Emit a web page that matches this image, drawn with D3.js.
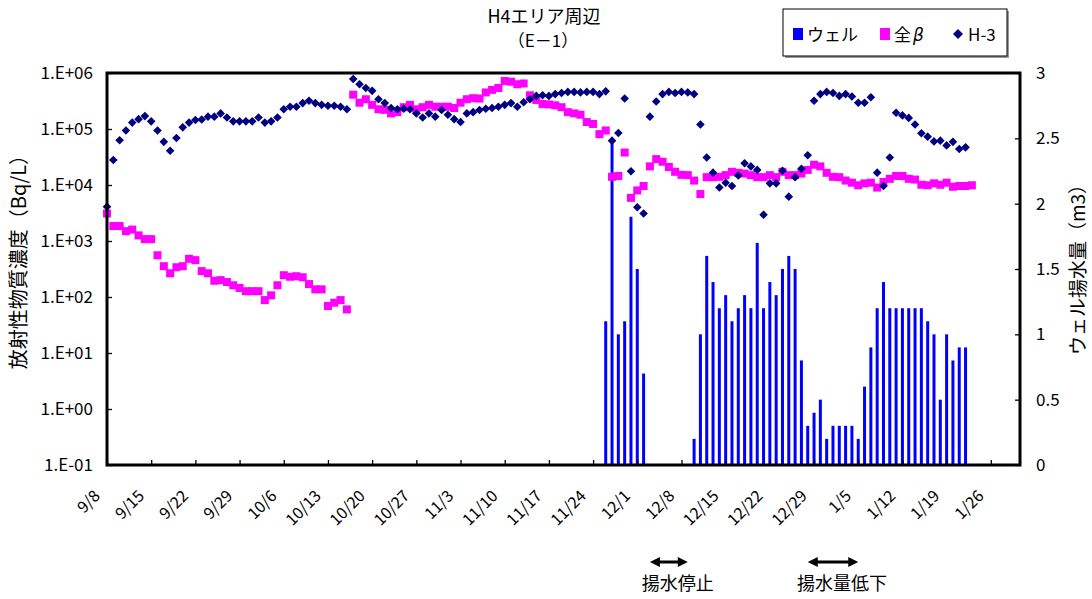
<!DOCTYPE html>
<html><head><meta charset="utf-8">
<script src="https://cdn.jsdelivr.net/npm/d3@7"></script>
<style>
body{margin:0;background:#fff}
svg{display:block}
text{font-family:"Noto Sans CJK JP","DejaVu Sans",sans-serif;fill:#000}
</style>
</head><body>
<svg id="chart" width="1092" height="599"></svg>
<script>
// ---- data ----
const sampleDates = [
 "9/8","9/9","9/10","9/11","9/12","9/13","9/14","9/15","9/16","9/17","9/18","9/19","9/20","9/21","9/22","9/23","9/24","9/25","9/26","9/27","9/28","9/29","9/30",
 "10/1","10/2","10/3","10/4","10/5","10/6","10/7","10/8","10/9","10/10","10/11","10/12","10/13","10/14","10/15","10/16","10/17","10/18","10/19","10/20","10/21","10/22","10/23","10/24","10/25","10/26","10/27","10/28","10/29","10/30","10/31",
 "11/1","11/2","11/3","11/4","11/5","11/6","11/7","11/8","11/9","11/10","11/11","11/12","11/13","11/14","11/15","11/16","11/17","11/18","11/19","11/20","11/21","11/22","11/23","11/24","11/25","11/26","11/27","11/28","11/29","11/30",
 "12/1","12/2","12/3","12/4","12/5","12/6","12/7","12/8","12/9","12/10","12/11","12/12","12/13","12/14","12/15","12/16","12/17","12/18","12/19","12/20","12/21","12/22","12/23","12/24","12/25","12/26","12/27","12/28","12/29","12/30","12/31",
 "1/1","1/2","1/3","1/4","1/5","1/6","1/7","1/8","1/9","1/10","1/11","1/12","1/13","1/14","1/15","1/16","1/17","1/18","1/19","1/20","1/21","1/22","1/23"
];
// H-3 (Bq/L), 9/8 .. 1/22
const h3Values = [
 4100,28000,63000,94000,130000,150000,170000,137000,94000,59000,41000,69000,107000,130000,145000,148000,166000,166000,190000,160000,137000,137000,137000,
 137000,160000,130000,137000,160000,225000,250000,250000,290000,320000,290000,270000,260000,260000,250000,225000,
 780000,630000,540000,480000,340000,290000,237000,225000,230000,225000,190000,160000,190000,166000,218000,
 180000,150000,133000,190000,200000,218000,230000,237000,250000,270000,
 290000,250000,300000,340000,390000,400000,390000,420000,440000,460000,
 460000,450000,460000,460000,420000,470000,62000,85000,350000,17600,
 4000,3100,166000,310000,420000,460000,440000,460000,450000,420000,
 120000,31000,16600,9000,11000,9600,14800,24500,21500,18600,
 2950,10700,10700,18000,6200,13800,19500,34000,320000,420000,460000,
 440000,390000,420000,380000,295000,295000,370000,16600,9600,31000,
 195000,175000,158000,120000,84000,73000,60000,62000,51000,59000,
 44000,47000
];
// 全β (Bq/L), 9/8 .. 1/23
const betaValues = [
 3100,1850,1850,1500,1600,1260,1080,1080,556,355,265,340,355,480,455,290,265,195,200,185,162,145,127,
 127,127,88,107,162,245,230,235,225,170,137,137,69,79,88,60,
 410000,295000,340000,270000,225000,220000,190000,200000,245000,270000,225000,245000,270000,250000,250000,
 250000,237000,295000,340000,355000,350000,450000,500000,540000,720000,
 700000,630000,650000,400000,330000,280000,275000,265000,245000,200000,
 190000,180000,133000,123000,81000,94000,14000,14500,38000,5900,
 8000,9600,21500,29000,26000,21000,17200,15200,15000,12000,
 6900,13800,13800,14000,15000,17200,16500,16000,15000,13800,
 13800,15000,13800,17200,15000,15000,16000,18600,23000,21500,16500,
 14000,13800,12000,11000,9900,10700,11000,9000,11300,12900,
 14500,14500,12900,12500,10100,9900,10700,10100,11000,9300,
 9600,9600,9900
];
// ウェル揚水量 (m3)
const wellDates = [
 "11/26","11/27","11/28","11/29","11/30","12/1","12/2",
 "12/10","12/11","12/12","12/13","12/14","12/15","12/16","12/17","12/18","12/19","12/20","12/21","12/22","12/23","12/24","12/25","12/26","12/27","12/28","12/29","12/30","12/31",
 "1/1","1/2","1/3","1/4","1/5","1/6","1/7","1/8","1/9","1/10","1/11","1/12","1/13","1/14","1/15","1/16","1/17","1/18","1/19","1/20","1/21","1/22"
];
const wellValues = [
 1.1,2.47,1.0,1.1,1.9,1.5,0.7,
 0.2,1.0,1.6,1.4,1.2,1.3,1.1,1.2,1.3,1.2,1.7,1.2,1.4,1.3,1.5,1.6,1.5,0.8,0.3,0.4,0.5,0.2,
 0.3,0.3,0.3,0.3,0.2,0.6,0.9,1.2,1.4,1.2,1.2,1.2,1.2,1.2,1.2,1.1,1.0,0.5,1.0,0.8,0.9,0.9
];
const xTickLabels = ["9/8","9/15","9/22","9/29","10/6","10/13","10/20","10/27","11/3","11/10","11/17","11/24","12/1","12/8","12/15","12/22","12/29","1/5","1/12","1/19","1/26"];
const leftTicks = [0.1,1,10,100,1000,10000,100000,1000000];
const leftTickLabels = ["1.E-01","1.E+00","1.E+01","1.E+02","1.E+03","1.E+04","1.E+05","1.E+06"];
const rightTicks = [0,0.5,1,1.5,2,2.5,3];
const annotations = [
 {label:"揚水停止", from:"12/3", to:"12/9"},
 {label:"揚水量低下", from:"12/28", to:"1/5"}
];
const seriesNames = ["ウェル","全","H-3"];
const colors = {well:"#0000FF", beta:"#FF00FF", h3:"#000080"};

// ---- helpers ----
function parseMD(s){
  const [m,d] = s.split("/").map(Number);
  return new Date(Date.UTC(m>=9?2013:2014, m-1, d));
}

// ---- layout ----
const L=107, R=1020, T=73, B=465;
const svg = d3.select("#chart");

const x = d3.scaleUtc()
  .domain([new Date(Date.UTC(2013,8,8)), new Date(Date.UTC(2014,0,30,15))])
  .range([L,R]);
const yL = d3.scaleLog().domain([0.1,1e6]).range([B,T]);
const yR = d3.scaleLinear().domain([0,3]).range([B,T]);

// bars
const wellData = wellDates.map((d,i)=>({date:parseMD(d), v:wellValues[i]}));
svg.append("g").selectAll("rect").data(wellData).enter().append("rect")
  .attr("x", d=>x(d.date)-1.5).attr("width",3)
  .attr("y", d=>yR(d.v)).attr("height", d=>yR(0)-yR(d.v))
  .attr("fill", colors.well);

// beta squares
const betaData = sampleDates.map((d,i)=>({date:parseMD(d), v:betaValues[i]})).filter(d=>d.v!=null);
svg.append("g").selectAll("rect").data(betaData).enter().append("rect")
  .attr("x", d=>x(d.date)-4).attr("y", d=>yL(d.v)-4)
  .attr("width",8).attr("height",8).attr("fill", colors.beta);

// H-3 diamonds
const h3Data = h3Values.map((v,i)=>({date:parseMD(sampleDates[i]), v:v}));
const diamond = "M0,-4.3L4.3,0L0,4.3L-4.3,0Z";
svg.append("g").selectAll("path").data(h3Data).enter().append("path")
  .attr("d", diamond)
  .attr("transform", d=>`translate(${x(d.date)},${yL(d.v)})`)
  .attr("fill", colors.h3);

// axes
const axL = d3.axisLeft(yL).tickValues(leftTicks).tickFormat((d,i)=>leftTickLabels[i]).tickSize(-5).tickPadding(14);
const gL = svg.append("g").attr("transform",`translate(${L},0)`).call(axL);
const axR = d3.axisRight(yR).tickValues(rightTicks).tickFormat(d3.format("")).tickSize(-5).tickPadding(16);
const gR = svg.append("g").attr("transform",`translate(${R},0)`).call(axR);
const xTickDates = xTickLabels.map(parseMD);
const axB = d3.axisBottom(x).tickValues(xTickDates).tickFormat("").tickSize(-5);
const gB = svg.append("g").attr("transform",`translate(0,${B})`).call(axB);
[gL,gR,gB].forEach(g=>{
  g.select(".domain").remove();
  g.selectAll(".tick line").attr("stroke","#000").attr("stroke-width",1.3);
  g.selectAll("text").style("font-family",'"Noto Sans CJK JP",sans-serif').style("font-size","17px").attr("fill","#000");
});
gB.selectAll(".tick text").remove();

// rotated x labels
svg.append("g").selectAll("text").data(xTickLabels).enter().append("text")
  .attr("transform", d=>`translate(${x(parseMD(d))-6},${497}) rotate(-45)`)
  .attr("text-anchor","end").style("font-size","16px").text(d=>d);

// frame
svg.append("rect").attr("x",L).attr("y",T).attr("width",R-L).attr("height",B-T)
  .attr("fill","none").attr("stroke","#000").attr("stroke-width",3);

// titles
svg.append("text").attr("x",544).attr("y",23).attr("text-anchor","middle").style("font-size","18px").text("H4エリア周辺");
svg.append("text").attr("x",543).attr("y",47).attr("text-anchor","middle").style("font-size","17px").text("（E－1）");

svg.append("text").attr("transform","translate(26,257) rotate(-90)").attr("text-anchor","middle")
  .style("font-size","20px").text("放射性物質濃度（Bq/L）");
svg.append("text").attr("transform","translate(1085,265) rotate(-90)").attr("text-anchor","middle")
  .style("font-size","19px").text("ウェル揚水量（m3）");

// legend
const lg = svg.append("g");
lg.append("rect").attr("x",785).attr("y",11).attr("width",224).attr("height",47).attr("fill","#999");
lg.append("rect").attr("x",783).attr("y",9).attr("width",224).attr("height",47).attr("fill","#fff").attr("stroke","#000").attr("stroke-width",1);
lg.append("rect").attr("x",793).attr("y",28).attr("width",10).attr("height",12).attr("fill",colors.well);
lg.append("text").attr("x",807).attr("y",41).style("font-size","17px").text(seriesNames[0]);
lg.append("rect").attr("x",880).attr("y",28).attr("width",10).attr("height",12).attr("fill",colors.beta);
const bt = lg.append("text").attr("x",894).attr("y",41).style("font-size","17px");
bt.append("tspan").text(seriesNames[1]);
bt.append("tspan").attr("dx",2).style("font-style","italic").style("font-family","DejaVu Sans").text("β");
lg.append("path").attr("d","M0,-5L5,0L0,5L-5,0Z").attr("transform","translate(958,34)").attr("fill",colors.h3);
lg.append("text").attr("x",968).attr("y",41).style("font-size","17px").text(seriesNames[2]);

// annotations
const ag = svg.append("g");
annotations.forEach(a=>{
  const x1 = x(parseMD(a.from)), x2 = x(parseMD(a.to)), yy = 562;
  ag.append("line").attr("x1",x1+6).attr("x2",x2-6).attr("y1",yy).attr("y2",yy).attr("stroke","#000").attr("stroke-width",3);
  ag.append("path").attr("d",`M${x1},${yy}L${x1+10},${yy-5}L${x1+10},${yy+5}Z`).attr("fill","#000");
  ag.append("path").attr("d",`M${x2},${yy}L${x2-10},${yy-5}L${x2-10},${yy+5}Z`).attr("fill","#000");
  ag.append("text").attr("x",(x1+x2)/2+9).attr("y",590).attr("text-anchor","middle").style("font-size","18px").text(a.label);
});
</script>
</body></html>
